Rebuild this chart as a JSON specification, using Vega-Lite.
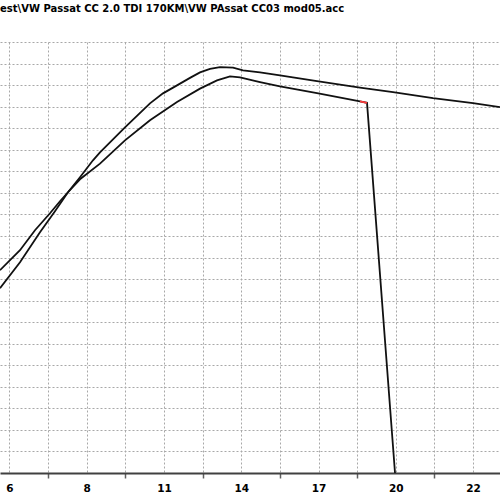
{
  "$schema": "https://vega.github.io/schema/vega-lite/v6.json",
  "width": 500,
  "height": 431,
  "autosize": {"type": "none"},
  "padding": {"left": 0, "top": 42, "right": 0, "bottom": 27},
  "background": "white",
  "title": {
    "text": "est\\VW Passat CC 2.0 TDI 170KM\\VW PAssat CC03 mod05.acc",
    "anchor": "start",
    "frame": "group",
    "offset": 28,
    "font": "DejaVu Sans",
    "fontSize": 10,
    "fontWeight": "bold",
    "color": "#000000"
  },
  "config": {
    "view": {"stroke": null},
    "axis": {
      "gridColor": "#a8a8a8",
      "gridDash": [2, 2],
      "gridWidth": 1,
      "gridOpacity": 1
    }
  },
  "data": {
    "values": [
      {"s": "A", "i": 0, "x": 5.256, "y": 8.577},
      {"s": "A", "i": 1, "x": 5.981, "y": 9.782},
      {"s": "A", "i": 2, "x": 6.705, "y": 11.173},
      {"s": "A", "i": 3, "x": 7.249, "y": 12.147},
      {"s": "A", "i": 4, "x": 7.720, "y": 13.027},
      {"s": "A", "i": 5, "x": 8.155, "y": 13.723},
      {"s": "A", "i": 6, "x": 8.626, "y": 14.511},
      {"s": "A", "i": 7, "x": 8.880, "y": 14.882},
      {"s": "A", "i": 8, "x": 9.786, "y": 16.041},
      {"s": "A", "i": 9, "x": 10.692, "y": 17.154},
      {"s": "A", "i": 10, "x": 11.164, "y": 17.617},
      {"s": "A", "i": 11, "x": 11.671, "y": 17.988},
      {"s": "A", "i": 12, "x": 12.142, "y": 18.336},
      {"s": "A", "i": 13, "x": 12.505, "y": 18.591},
      {"s": "A", "i": 14, "x": 12.867, "y": 18.753},
      {"s": "A", "i": 15, "x": 13.230, "y": 18.837},
      {"s": "A", "i": 16, "x": 13.701, "y": 18.809},
      {"s": "A", "i": 17, "x": 14.063, "y": 18.684},
      {"s": "A", "i": 18, "x": 14.679, "y": 18.591},
      {"s": "A", "i": 19, "x": 15.404, "y": 18.452},
      {"s": "A", "i": 20, "x": 16.745, "y": 18.188},
      {"s": "A", "i": 21, "x": 18.304, "y": 17.881},
      {"s": "A", "i": 22, "x": 19.500, "y": 17.677},
      {"s": "A", "i": 23, "x": 20.950, "y": 17.399},
      {"s": "A", "i": 24, "x": 22.400, "y": 17.167},
      {"s": "A", "i": 25, "x": 23.378, "y": 16.982},
      {"s": "B", "i": 0, "x": 5.256, "y": 9.411},
      {"s": "B", "i": 1, "x": 5.981, "y": 10.338},
      {"s": "B", "i": 2, "x": 6.524, "y": 11.266},
      {"s": "B", "i": 3, "x": 7.068, "y": 12.054},
      {"s": "B", "i": 4, "x": 7.430, "y": 12.610},
      {"s": "B", "i": 5, "x": 7.720, "y": 13.027},
      {"s": "B", "i": 6, "x": 8.155, "y": 13.630},
      {"s": "B", "i": 7, "x": 8.880, "y": 14.358},
      {"s": "B", "i": 8, "x": 9.786, "y": 15.438},
      {"s": "B", "i": 9, "x": 10.692, "y": 16.365},
      {"s": "B", "i": 10, "x": 11.671, "y": 17.214},
      {"s": "B", "i": 11, "x": 12.505, "y": 17.835},
      {"s": "B", "i": 12, "x": 13.121, "y": 18.220},
      {"s": "B", "i": 13, "x": 13.592, "y": 18.405},
      {"s": "B", "i": 14, "x": 13.955, "y": 18.359},
      {"s": "B", "i": 15, "x": 14.679, "y": 18.141},
      {"s": "B", "i": 16, "x": 15.404, "y": 17.942},
      {"s": "B", "i": 17, "x": 16.745, "y": 17.631},
      {"s": "B", "i": 18, "x": 18.304, "y": 17.246},
      {"s": "B", "i": 19, "x": 18.558, "y": 17.177},
      {"s": "B", "i": 20, "x": 19.573, "y": 0},
      {"s": "R", "i": 0, "x": 18.304, "y": 17.246},
      {"s": "R", "i": 1, "x": 18.558, "y": 17.177}
    ]
  },
  "mark": {"type": "line", "strokeWidth": 1.8, "clip": true},
  "encoding": {
    "x": {
      "field": "x",
      "type": "quantitative",
      "scale": {"domain": [5.256, 23.378], "nice": false, "zero": false},
      "axis": {
        "title": null,
        "values": [5.6, 7.0, 8.4, 9.8, 11.2, 12.6, 14.0, 15.4, 16.8, 18.2, 19.6, 21.0, 22.4],
        "labelExpr": "round(datum.value / 1.4) % 2 == 0 ? format(datum.value, '.0f') : ''",
        "tickOpacity": {"condition": {"test": "round(datum.value / 1.4) % 2 == 0", "value": 0}, "value": 1},
        "domainColor": "#404040",
        "domainWidth": 2,
        "tickColor": "#606060",
        "tickSize": 5,
        "tickWidth": 1.5,
        "labelFont": "DejaVu Sans",
        "labelFontSize": 10.5,
        "labelFontWeight": "bold",
        "labelColor": "#000000",
        "labelPadding": 5,
        "labelFlush": false,
        "labelOverlap": false
      }
    },
    "y": {
      "field": "y",
      "type": "quantitative",
      "scale": {"domain": [0, 20], "nice": false, "zero": true},
      "axis": {
        "title": null,
        "values": [1, 2, 3, 4, 5, 6, 7, 8, 9, 10, 11, 12, 13, 14, 15, 16, 17, 18, 19, 20],
        "labels": false,
        "ticks": false,
        "domain": false
      }
    },
    "color": {
      "field": "s",
      "type": "nominal",
      "scale": {"domain": ["A", "B", "R"], "range": ["#111111", "#111111", "#ff3b3b"]},
      "legend": null
    },
    "order": {"field": "i", "type": "quantitative"}
  }
}
